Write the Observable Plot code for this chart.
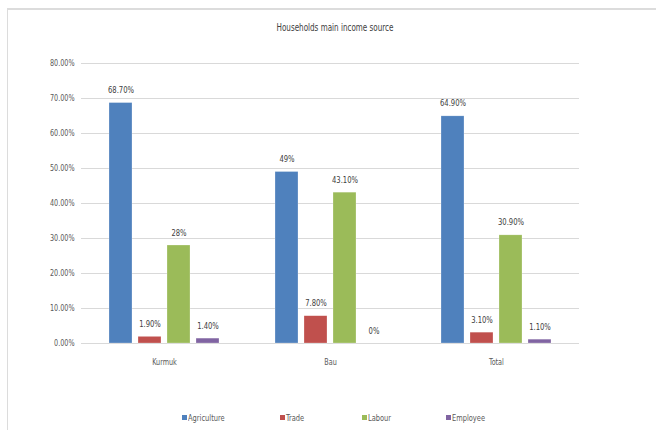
<!DOCTYPE html>
<html>
<head>
<meta charset="utf-8">
<script src="https://cdn.jsdelivr.net/npm/d3@7"></script>
<script src="https://cdn.jsdelivr.net/npm/@observablehq/plot@0.6"></script>
<style>
  html, body { margin: 0; padding: 0; background: #fff; }
  body { width: 656px; height: 430px; position: relative; overflow: hidden;
         font-family: "Liberation Sans Narrow", "DejaVu Sans Condensed", "Roboto", sans-serif; }
  #frame { position: absolute; left: 7px; top: 8px; width: 660px; height: 440px;
           border-top: 2px solid #dcdcdc; border-left: 1px solid #dcdcdc; box-sizing: border-box; }
  #title { position: absolute; left: 185px; width: 300px; top: 22px; text-align: center;
           font-size: 10px; color: #404040; transform: scaleX(0.8); transform-origin: center; }
  #chart { position: absolute; left: 0; top: 50px; }
  #legend { position: absolute; top: 412px; left: 0; width: 656px; height: 14px;
            font-size: 9.5px; color: #595959; }
  #legend .item { position: absolute; top: 0; display: flex; align-items: center; white-space: nowrap; }
  #legend .sw { width: 5px; height: 5px; display: inline-block; margin-right: 1px; }
  #legend .tx { display: inline-block; transform: scaleX(0.78); transform-origin: left center; }
</style>
</head>
<body>
<div id="frame"></div>
<div id="title">Households main income source</div>
<div id="chart"></div>
<div id="legend"></div>
<script>
const groups = ["Kurmuk", "Bau", "Total"];
const series = ["Agriculture", "Trade", "Labour", "Employee"];
const colors = ["#4F81BD", "#C0504D", "#9BBB59", "#8064A2"];

const agriculture = [0.687, 0.49, 0.649];
const trade = [0.019, 0.078, 0.031];
const labour = [0.28, 0.431, 0.309];
const employee = [0.014, 0, 0.011];

const agricultureLabels = ["68.70%", "49%", "64.90%"];
const tradeLabels = ["1.90%", "7.80%", "3.10%"];
const labourLabels = ["28%", "43.10%", "30.90%"];
const employeeLabels = ["1.40%", "0%", "1.10%"];

const yTicks = [0, 0.1, 0.2, 0.3, 0.4, 0.5, 0.6, 0.7, 0.8];

const valueSets = [agriculture, trade, labour, employee];
const labelSets = [agricultureLabels, tradeLabels, labourLabels, employeeLabels];
const rows = [];
groups.forEach((g, gi) => {
  series.forEach((s, si) => {
    rows.push({group: g, series: s, value: valueSets[si][gi], label: labelSets[si][gi]});
  });
});

const font = '"Liberation Sans Narrow", "DejaVu Sans Condensed", "Roboto", sans-serif';

const chart = Plot.plot({
  width: 656,
  height: 330,
  marginLeft: 80,
  marginRight: 76,
  marginTop: 13,
  marginBottom: 37,
  style: {fontFamily: font, fontSize: "9px", color: "#595959", background: "transparent"},
  facet: {data: rows, x: "group"},
  fx: {domain: groups, padding: 0, label: null, tickSize: 0, tickPadding: 15, axis: "bottom"},
  x: {domain: series, axis: null, paddingInner: 0.2, paddingOuter: 0.9},
  y: {domain: [0, 0.8], ticks: yTicks, tickFormat: d3.format(".2%"), tickSize: 0, tickPadding: 7, label: null},
  color: {domain: series, range: colors},
  marks: [
    Plot.ruleY(yTicks, {stroke: "#d9d9d9", strokeWidth: 1}),
    Plot.barY(rows, {x: "series", y: "value", fill: "series", stroke: "#ffffff", strokeOpacity: 0.5, strokeWidth: 0.5}),
    Plot.text(rows, {x: "series", y: "value", text: "label", dy: -13, fill: "#404040", fontSize: 9.5})
  ]
});
document.getElementById("chart").appendChild(chart);

// condense text horizontally (narrow font look), scaling about each text's anchor
chart.querySelectorAll("text").forEach(t => {
  const bb = t.getBBox();
  const anchor = getComputedStyle(t).textAnchor;
  const ax = anchor === "end" ? bb.x + bb.width : anchor === "middle" ? bb.x + bb.width / 2 : bb.x;
  const prev = t.getAttribute("transform") || "";
  t.setAttribute("transform", `${prev} translate(${ax},0) scale(0.8,1) translate(${-ax},0)`);
});

const legendX = [182, 280, 362, 446];
const legend = document.getElementById("legend");
series.forEach((s, i) => {
  const item = document.createElement("span");
  item.className = "item";
  item.style.left = legendX[i] + "px";
  const sw = document.createElement("span");
  sw.className = "sw";
  sw.style.background = colors[i];
  const tx = document.createElement("span");
  tx.className = "tx";
  tx.textContent = s;
  item.appendChild(sw);
  item.appendChild(tx);
  legend.appendChild(item);
});
</script>
</body>
</html>
